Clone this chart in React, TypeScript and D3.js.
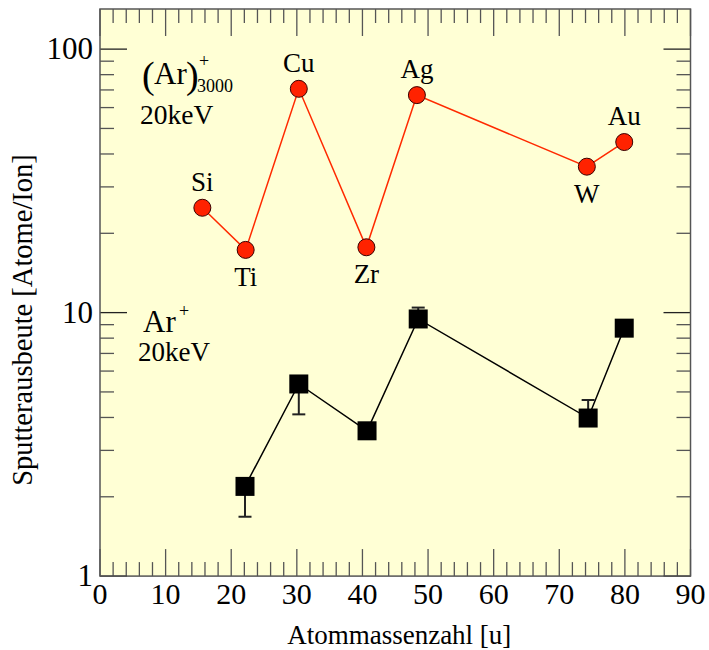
import React from 'react';
import * as d3 from 'd3';

// Ar3000 cluster, 20 keV
const elements = ['Si', 'Ti', 'Cu', 'Zr', 'Ag', 'W', 'Au'];
const clusterX = [15.6, 22.2, 30.3, 40.6, 48.3, 74.2, 79.9];
const clusterYield = [25.0, 17.3, 70.7, 17.7, 66.9, 35.8, 44.4];
const labelSide = ['above', 'below', 'above', 'below', 'above', 'below', 'above'];

// Ar+ monomer, 20 keV
const monoX = [22.1, 30.3, 40.7, 48.5, 74.4, 79.9];
const monoYield = [2.19, 5.36, 3.56, 9.46, 3.98, 8.73];
const monoErrLow = [1.68, 4.11, null, null, null, null];
const monoErrHigh = [null, null, null, 10.45, 4.66, null];

const xTickLabels = [0, 10, 20, 30, 40, 50, 60, 70, 80, 90];
const yTickLabels = [1, 10, 100];

const W = 709;
const H = 650;
const left = 100;
const right = 690.5;
const top = 9;
const bottom = 576.1;

const font = 'Liberation Serif, DejaVu Serif, serif';
const tickColor = '#555';

export default function App() {
  const x = d3.scaleLinear().domain([0, 90]).range([left, right]);
  const y = d3.scaleLog().domain([1, 142]).range([bottom, top]);

  const xMinor = d3.range(0, 91, 2);
  const yMinor: number[] = [];
  [1, 10, 100].forEach(d => {
    for (let k = 1; k <= 9; k++) {
      const v = d * k;
      if (v <= 142) yMinor.push(v);
    }
  });

  const line = d3.line<[number, number]>().x(d => x(d[0])).y(d => y(d[1]));
  const clusterPts: [number, number][] = clusterX.map((v, i) => [v, clusterYield[i]]);
  const monoPts: [number, number][] = monoX.map((v, i) => [v, monoYield[i]]);

  const sq = 19;

  return (
    <svg width={W} height={H} style={{ position: 'absolute', left: 0, top: 0, fontFamily: font }}>
      <rect x={left} y={top} width={right - left} height={bottom - top} fill="#ffffd5" />

      {/* x ticks, bottom and top */}
      {xMinor.map(v => {
        const len = v % 10 === 0 ? 27 : 14;
        return (
          <g key={'x' + v} stroke={tickColor} strokeWidth={1.3}>
            <line x1={x(v)} x2={x(v)} y1={bottom} y2={bottom - len} />
            <line x1={x(v)} x2={x(v)} y1={top} y2={top + len} />
          </g>
        );
      })}
      {/* y ticks, left and right */}
      {yMinor.map(v => {
        const major = yTickLabels.includes(v);
        const len = major ? 27 : 14;
        return (
          <g key={'y' + v} stroke={major ? '#222' : tickColor} strokeWidth={1.3}>
            <line x1={left} x2={left + len} y1={y(v)} y2={y(v)} />
            <line x1={right} x2={right - len} y1={y(v)} y2={y(v)} />
          </g>
        );
      })}

      <rect x={left} y={top} width={right - left} height={bottom - top} fill="none" stroke="#555" strokeWidth={1.5} />

      {xTickLabels.map(v => (
        <text key={'xl' + v} x={x(v)} y={604} textAnchor="middle" fontSize={30}>{v}</text>
      ))}
      {yTickLabels.map(v => (
        <text key={'yl' + v} x={93} y={y(v) + 10} textAnchor="end" fontSize={31}>{v}</text>
      ))}

      <text x={(left + right) / 2 + 4} y={644} textAnchor="middle" fontSize={27}>Atommassenzahl [u]</text>
      <text transform={`translate(32,${320}) rotate(-90)`} textAnchor="middle" fontSize={28.5}>
        Sputterausbeute [Atome/Ion]
      </text>

      {/* cluster series */}
      <path d={line(clusterPts) || ''} fill="none" stroke="#ff2a00" strokeWidth={1.5} />
      {clusterPts.map((p, i) => (
        <circle key={'c' + i} cx={x(p[0])} cy={y(p[1])} r={8.5} fill="#ff2200" stroke="#3a0000" strokeWidth={1} />
      ))}
      {clusterPts.map((p, i) => (
        <text
          key={'cl' + i}
          x={x(p[0])}
          y={labelSide[i] === 'above' ? y(p[1]) - 17 : y(p[1]) + 36}
          textAnchor="middle"
          fontSize={27}
        >
          {elements[i]}
        </text>
      ))}

      {/* monomer series */}
      <path d={line(monoPts) || ''} fill="none" stroke="#000" strokeWidth={1.5} />
      {monoPts.map((p, i) => {
        const cx = x(p[0]);
        const bars = [monoErrLow[i], monoErrHigh[i]].filter(v => v != null) as number[];
        return (
          <g key={'m' + i}>
            {bars.map((b, j) => (
              <g key={j} stroke="#222" strokeWidth={2}>
                <line x1={cx} x2={cx} y1={y(p[1])} y2={y(b)} />
                <line x1={cx - 6.5} x2={cx + 6.5} y1={y(b)} y2={y(b)} />
              </g>
            ))}
            <rect x={cx - sq / 2} y={y(p[1]) - sq / 2} width={sq} height={sq} fill="#000" />
          </g>
        );
      })}

      {/* annotations */}
      <text x={142} y={88} fontSize={38}>(</text>
      <text x={154} y={84} fontSize={31}>Ar</text>
      <text x={186} y={88} fontSize={38}>)</text>
      <text x={199} y={67} fontSize={18}>+</text>
      <text x={197} y={92} fontSize={18}>3000</text>
      <text x={140} y={124} fontSize={27.5}>20keV</text>

      <text x={143} y={332} fontSize={31}>Ar</text>
      <text x={179} y={317} fontSize={18}>+</text>
      <text x={138} y={361} fontSize={27}>20keV</text>
    </svg>
  );
}
